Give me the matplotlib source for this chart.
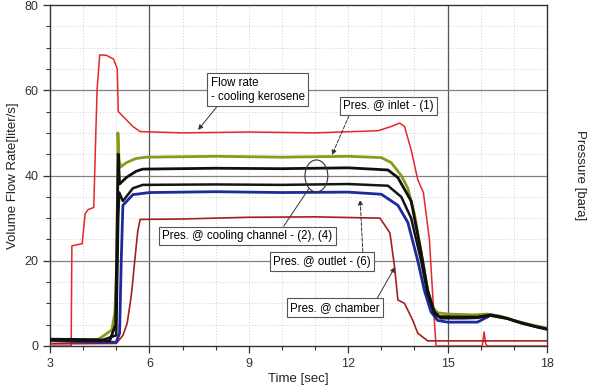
import numpy as np
import matplotlib
matplotlib.use('Agg')
from matplotlib import pyplot as plt
from matplotlib.patches import Ellipse
from matplotlib.ticker import MultipleLocator

plt.rcParams['font.family'] = ['Liberation Sans', 'DejaVu Sans']

# flow rate - cooling kerosene (bright red)
t_flow = [3.0, 3.64, 3.66, 3.97, 4.06, 4.15, 4.32, 4.42, 4.5, 4.7, 4.92, 5.03, 5.06, 5.25, 5.5, 5.72,
          7.0, 9.0, 11.0, 12.9, 13.3, 13.55, 13.7, 13.9, 14.1, 14.27, 14.45, 14.55, 14.65,
          16.05, 16.1, 16.15, 16.2, 18.0]
flow = [0, 0, 23.5, 24, 31, 32, 32.5, 60, 68.3, 68.2, 67.3, 65, 55, 53.5, 51.5, 50.3,
        50, 50.2, 50, 50.5, 51.5, 52.3, 51.5, 46, 39, 36, 25, 12, 0,
        0, 3.3, 0.5, 0, 0]

# pressure @ inlet (1)
t_inlet = [3.0, 4.4, 4.6, 4.87, 4.96, 5.02, 5.05, 5.08, 5.13, 5.3, 5.6, 5.9, 8.0, 10.0, 12.0,
           13.0, 13.3, 13.6, 13.8, 14.0, 14.2, 14.4, 14.55, 14.7, 15.0, 15.8, 16.2, 16.6,
           17.0, 17.5, 18.0]
p_inlet = [1.4, 1.3, 2.3, 3.8, 8, 20, 50, 44, 42, 43, 44, 44.3, 44.5, 44.3, 44.5,
           44.2, 43, 40, 37, 31, 22, 13, 9, 7.8, 7.5, 7.3, 7.5, 7.0,
           6.0, 5.0, 4.2]

# pressure @ cooling channel (2) and (4)
t_ch2 = [3.0, 4.4, 4.8, 4.98, 5.03, 5.06, 5.1, 5.3, 5.6, 5.8, 8.0, 10.0, 12.0, 13.2, 13.5,
         13.9, 14.2, 14.4, 14.6, 14.75, 15.5, 15.9, 16.3, 16.8, 17.2, 17.7, 18.0]
p_ch2 = [1.6, 1.5, 1.2, 5, 30, 45, 38, 39.5, 41, 41.5, 41.7, 41.6, 41.8, 41.3, 39.5,
         34, 22, 13, 8, 6.9, 6.8, 6.8, 7.3, 6.5, 5.5, 4.5, 4.0]
t_ch4 = [3.0, 4.5, 5.0, 5.06, 5.09, 5.2, 5.5, 5.8, 8.0, 10.0, 12.0, 13.2, 13.6, 13.9, 14.2,
         14.4, 14.6, 14.8, 15.5, 15.9, 16.3, 16.8, 17.2, 17.7, 18.0]
p_ch4 = [1.3, 1.2, 2.5, 30, 36, 34, 37, 37.8, 37.9, 37.8, 38.0, 37.6, 35, 30, 20,
         12, 7.5, 6.5, 6.5, 6.6, 7.1, 6.4, 5.4, 4.4, 3.9]

# pressure @ outlet (6)
t_outlet = [3.0, 4.5, 5.0, 5.1, 5.15, 5.2, 5.5, 6.0, 8.0, 10.0, 12.0, 13.0, 13.5, 13.8,
            14.1, 14.3, 14.5, 14.7, 15.0, 15.9, 16.2]
p_outlet = [1.2, 0.9, 0.9, 3, 20, 33, 35.5, 36, 36.2, 36, 36.1, 35.6, 33, 29,
            20, 13, 8, 6, 5.6, 5.6, 6.8]

# pressure @ chamber
t_cham = [3.0, 5.0, 5.2, 5.27, 5.33, 5.42, 5.47, 5.57, 5.65, 5.72, 7.0, 9.0, 11.0, 12.96,
          13.26, 13.4, 13.5, 13.7, 13.95, 14.1, 14.4, 18.0]
p_cham = [0.5, 0.6, 2.5, 4.0, 5.4, 10, 13, 21, 27, 29.7, 29.8, 30.2, 30.3, 30.0,
          26.5, 18.5, 10.8, 10, 6, 3, 1.2, 1.2]

fig = plt.figure(figsize=(5.93, 3.90), dpi=100)
ax = fig.add_axes([50/593, 1-346/390, 497/593, 341/390])

# grid: dotted minor, solid major
for xv in range(4, 18):
    ax.axvline(xv, color='#d6d6d6', lw=0.7, ls=(0, (1.2, 1.8)), zorder=0)
for yv in range(5, 80, 5):
    ax.axhline(yv, color='#d6d6d6', lw=0.7, ls=(0, (1.2, 1.8)), zorder=0)
for xv in [6, 15]:
    ax.axvline(xv, color='#555555', lw=0.9, zorder=1)
for yv in [20, 40, 60]:
    ax.axhline(yv, color='#808080', lw=0.9, zorder=1)

ax.plot(t_flow, flow, color='#e8262a', lw=1.1, zorder=3)
ax.plot(t_cham, p_cham, color='#a3201f', lw=1.2, zorder=3)
ax.plot(t_outlet, p_outlet, color='#1c2a9c', lw=2.0, zorder=3)
ax.plot(t_ch4, p_ch4, color='#151515', lw=1.8, zorder=4)
ax.plot(t_inlet, p_inlet, color='#8a9a1c', lw=2.0, zorder=3)
ax.plot(t_ch2, p_ch2, color='#101010', lw=2.0, zorder=4)

ax.set_xlim(3, 18)
ax.set_ylim(0, 80)
ax.xaxis.set_major_locator(MultipleLocator(3))
ax.xaxis.set_minor_locator(MultipleLocator(1))
ax.yaxis.set_major_locator(MultipleLocator(20))
ax.yaxis.set_minor_locator(MultipleLocator(5))
ax.tick_params(which='major', direction='out', length=5, width=0.9, labelsize=9,
               colors='#333333', right=True, labelright=True)
ax.tick_params(which='minor', direction='out', length=3, width=0.8, right=True, colors='#333333')
for s in ax.spines.values():
    s.set_color('#333333')
    s.set_linewidth(1.0)

ax.set_xlabel('Time [sec]', fontsize=9.5, color='#222222', labelpad=2)
ax.set_ylabel('Volume Flow Rate[liter/s]', fontsize=9.5, color='#222222', labelpad=4)
ax2 = ax.twinx()
ax2.set_ylim(0, 80)
ax2.set_yticks([])
ax2.set_ylabel('Pressure [bara]', fontsize=9.5, color='#222222', rotation=270, labelpad=28)
for s in ax2.spines.values():
    s.set_visible(False)

box = dict(boxstyle='square,pad=0.3', fc='white', ec='#555555', lw=0.8)
fs = 8.3

ax.annotate('Flow rate\n- cooling kerosene', xy=(7.47, 50.7), xytext=(7.85, 60.1),
            fontsize=fs, ha='left', va='center', bbox=box, zorder=6,
            arrowprops=dict(arrowstyle='-|>', color='#333333', lw=0.7,
                            mutation_scale=7, shrinkA=0, shrinkB=0, relpos=(0.1, 0.0)))
ax.annotate('Pres. @ inlet - (1)', xy=(11.51, 44.8), xytext=(13.22, 56.3),
            fontsize=fs, ha='center', va='center', bbox=box, zorder=6,
            arrowprops=dict(arrowstyle='-|>', color='#333333', lw=0.7, ls='--',
                            mutation_scale=7, shrinkA=0, shrinkB=0,
                            relpos=(0.08, 0.0)))
ax.annotate('Pres. @ cooling channel - (2), (4)', xy=(10.82, 37.0), xytext=(8.95, 25.8),
            fontsize=fs, ha='center', va='center', bbox=box, zorder=6,
            arrowprops=dict(arrowstyle='-', color='#333333', lw=0.7,
                            shrinkA=0, shrinkB=0, relpos=(0.7, 1.0)))
ax.annotate('Pres. @ outlet - (6)', xy=(12.36, 34.3), xytext=(11.21, 19.8),
            fontsize=fs, ha='center', va='center', bbox=box, zorder=6,
            arrowprops=dict(arrowstyle='-|>', color='#333333', lw=0.7, ls='--',
                            mutation_scale=7, shrinkA=0, shrinkB=0,
                            relpos=(0.92, 1.0)))
ax.annotate('Pres. @ chamber', xy=(13.41, 18.5), xytext=(11.6, 9.0),
            fontsize=fs, ha='center', va='center', bbox=box, zorder=6,
            arrowprops=dict(arrowstyle='-|>', color='#333333', lw=0.7,
                            mutation_scale=7, shrinkA=0, shrinkB=0,
                            relpos=(0.95, 1.0)))

ax.add_patch(Ellipse((11.04, 39.9), 0.69, 7.5, fill=False, ec='#333333', lw=0.8, zorder=5))

fig.savefig('out.png', dpi=100)
